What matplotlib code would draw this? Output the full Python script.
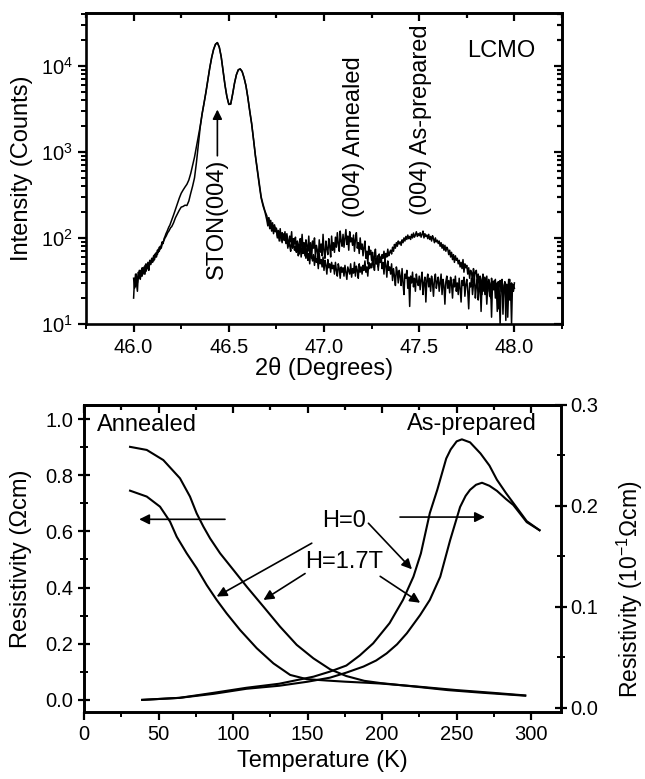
import numpy as np
import matplotlib
matplotlib.use('Agg')
import matplotlib.pyplot as plt
from matplotlib.ticker import MultipleLocator, LogLocator, NullFormatter, FormatStrFormatter

plt.rcParams['font.family'] = ['Liberation Sans', 'DejaVu Sans']
plt.rcParams['mathtext.fontset'] = 'custom'
plt.rcParams['mathtext.rm'] = 'Liberation Sans'
plt.rcParams['mathtext.it'] = 'Liberation Sans:italic'
plt.rcParams['mathtext.bf'] = 'Liberation Sans:bold'

# ---------------- XRD data ----------------
# scan grid: 46.000-46.195 (0.005 step), 46.20-46.69 (0.01 step), 46.700-48.000 (0.005 step)
two_theta = np.concatenate([np.linspace(46.0, 46.195, 40),
                            np.linspace(46.20, 46.69, 50),
                            np.linspace(46.70, 48.0, 261)])

xrd_annealed = [
    # 46.000 - 46.195
    20, 34, 27, 38, 30, 36, 42, 33, 40, 36,
    45, 38, 48, 41, 44, 52, 46, 55, 49, 58,
    52, 62, 56, 66, 60, 72, 68, 78, 74, 82,
    90, 86, 98, 104, 112, 118, 126, 134, 140, 150,
    # 46.20 - 46.69
    160, 185, 215, 250, 290, 330, 360, 390, 420, 470,
    560, 700, 870, 1150, 1500, 2000, 2800, 3700, 5000, 6900,
    9500, 12500, 15500, 17800, 18600, 16500, 12800, 8800, 6000, 4400,
    3600, 3600, 4700, 6300, 7900, 9000, 9200, 8600, 7300, 5900,
    4300, 3000, 2150, 1400, 900, 620, 420, 300, 245, 205,
    # 46.700 - 48.000
    180, 150, 172, 140, 160, 128, 150, 118, 142, 125,
    130, 105, 122, 98, 128, 92, 115, 108, 96, 118,
    88, 112, 95, 80, 105, 90, 118, 76, 98, 85,
    102, 70, 92, 84, 65, 98, 78, 110, 72, 88,
    62, 95, 80, 70, 105, 66, 88, 58, 92, 76,
    100, 60, 82, 72, 55, 95, 68, 85, 62, 110,
    70, 58, 92, 75, 64, 98, 80, 60, 105, 72,
    88, 68, 102, 78, 115, 85, 70, 120, 92, 80,
    110, 78, 98, 125, 84, 105, 72, 118, 90, 100,
    82, 108, 70, 96, 115, 76, 88, 66, 100, 74,
    85, 62, 78, 92, 58, 70, 50, 80, 64, 72,
    55, 68, 46, 62, 74, 50, 58, 42, 65, 52,
    60, 44, 52, 38, 56, 48, 35, 54, 42, 46,
    38, 50, 32, 44, 36, 28, 46, 40, 30, 42,
    36, 28, 44, 30, 22, 38, 34, 42, 26, 35,
    16, 36, 30, 40, 27, 34, 24, 38, 31, 28,
    36, 25, 33, 40, 22, 30, 35, 18, 32, 38,
    27, 34, 24, 36, 30, 21, 33, 38, 26, 31,
    35, 24, 30, 38, 22, 33, 28, 17, 31, 36,
    26, 32, 23, 35, 29, 20, 33, 27, 36, 24,
    30, 22, 34, 26, 18, 32, 28, 35, 21, 29,
    33, 24, 15, 30, 27, 34, 22, 29, 36, 20,
    28, 33, 19, 26, 31, 14, 29, 24, 34, 22,
    30, 17, 27, 33, 21, 28, 12, 30, 25, 32,
    20, 28, 14, 31, 24, 10, 27, 33, 18, 26,
    30, 11, 28, 22, 33, 19, 27, 10, 29, 24,
    30]

xrd_asprepared = [
    # 46.000 - 46.195
    34, 26, 38, 30, 24, 40, 34, 42, 36, 45,
    40, 46, 38, 50, 44, 48, 42, 54, 50, 56,
    58, 54, 64, 60, 68, 64, 74, 70, 80, 76,
    84, 90, 94, 100, 104, 110, 116, 120, 126, 132,
    # 46.20 - 46.69
    135, 150, 172, 190, 210, 228, 232, 240, 238, 268,
    330, 400, 500, 750, 1200, 1950, 2750, 3650, 4900, 6800,
    9400, 12400, 15400, 17700, 18500, 16400, 12700, 8700, 5900, 4350,
    3550, 3580, 4650, 6250, 7850, 8950, 9150, 8550, 7250, 5850,
    4250, 2950, 2100, 1380, 880, 600, 410, 290, 235, 200,
    # 46.700 - 48.000
    160, 138, 170, 128, 148, 120, 140, 112, 135, 118,
    125, 100, 118, 92, 110, 105, 88, 112, 94, 100,
    86, 98, 76, 92, 82, 70, 95, 78, 88, 72,
    80, 68, 90, 62, 75, 84, 60, 78, 66, 72,
    70, 58, 76, 55, 66, 50, 72, 60, 54, 64,
    48, 62, 52, 58, 44, 66, 50, 56, 46, 60,
    42, 55, 48, 38, 56, 45, 50, 40, 52, 44,
    48, 38, 52, 42, 36, 50, 44, 34, 46, 40,
    45, 36, 48, 40, 33, 46, 42, 38, 50, 35,
    44, 39, 52, 36, 47, 42, 34, 50, 40, 46,
    38, 48, 42, 54, 40, 46, 36, 52, 44, 50,
    45, 56, 48, 42, 58, 50, 62, 46, 55, 60,
    52, 64, 58, 70, 55, 66, 60, 74, 62, 68,
    72, 65, 78, 70, 84, 76, 88, 80, 92, 85,
    90, 82, 95, 88, 100, 92, 104, 96, 108, 98,
    104, 96, 110, 100, 114, 102, 108, 118, 104, 112,
    106, 115, 102, 110, 120, 100, 112, 104, 108, 98,
    110, 96, 104, 92, 106, 98, 88, 100, 90, 94,
    86, 92, 80, 88, 76, 84, 72, 82, 70, 78,
    74, 64, 72, 60, 68, 56, 64, 52, 62, 55,
    58, 50, 55, 46, 52, 44, 56, 40, 50, 45,
    48, 38, 45, 34, 42, 40, 30, 44, 36, 40,
    42, 30, 38, 26, 36, 33, 22, 38, 30, 35,
    28, 36, 24, 32, 30, 20, 34, 27, 31, 25,
    33, 22, 30, 15, 28, 32, 24, 30, 13, 28,
    31, 22, 29, 12, 27, 33, 20, 30, 25, 28,
    26]

xrd_xticks = [46.0, 46.5, 47.0, 47.5, 48.0]

# ---------------- Resistivity data ----------------
# Annealed (left axis, Ohm cm)
ann_H0_T = [30.9, 42.1, 51.0, 57.7, 62.2, 68.9, 75.6, 82.3, 89.0, 95.7, 104.7, 115.9, 127.1, 138.3,
            149.4, 162.9, 175, 190, 200, 225, 250, 275, 296]
ann_H0_rho = [0.745, 0.724, 0.688, 0.635, 0.581, 0.522, 0.469, 0.409, 0.356, 0.308, 0.249, 0.184,
              0.130, 0.089, 0.074, 0.069, 0.065, 0.061, 0.058, 0.047, 0.035, 0.025, 0.016]
ann_H17_T = [30.9, 42.1, 53.2, 64.4, 71.1, 75.6, 80.1, 84.6, 91.3, 100.2, 109.2, 120.4, 131.5, 142.7,
             153.9, 165.1, 176, 188, 199, 221, 244, 266, 296]
ann_H17_rho = [0.901, 0.890, 0.854, 0.789, 0.724, 0.664, 0.617, 0.575, 0.522, 0.463, 0.403, 0.332,
               0.261, 0.196, 0.148, 0.109, 0.085, 0.068, 0.060, 0.048, 0.035, 0.026, 0.015]

# As-prepared (right axis, 10^-1 Ohm cm)
asp_H0_T = [39, 64, 87, 109, 131, 154, 165, 176, 185, 194, 205, 214, 221, 226, 232, 237, 243, 246,
            250, 253.5, 259, 266, 272, 277, 283, 288, 297, 305.6]
asp_H0_rho = [0.008, 0.010, 0.015, 0.020, 0.024, 0.031, 0.036, 0.042, 0.052, 0.064, 0.084, 0.107,
              0.13, 0.153, 0.193, 0.216, 0.247, 0.256, 0.264, 0.266, 0.263, 0.252, 0.240, 0.226,
              0.213, 0.203, 0.185, 0.176]
asp_H17_T = [39, 64, 87, 109, 131, 150, 165, 176, 187.5, 196, 203, 210, 216.6, 225.5, 232, 239, 245.6,
             252.3, 256, 259, 263, 267, 272, 277, 283, 288, 297, 305.6]
asp_H17_rho = [0.008, 0.010, 0.014, 0.019, 0.022, 0.026, 0.030, 0.035, 0.041, 0.047, 0.054, 0.063,
               0.074, 0.092, 0.107, 0.13, 0.166, 0.199, 0.210, 0.216, 0.221, 0.223, 0.220, 0.215,
               0.207, 0.201, 0.184, 0.176]

# ---------------- Figure ----------------
fig = plt.figure(figsize=(6.45, 7.79), dpi=100)
SPW = 1.9
TICK_FS = 14.5
LAB_FS = 17
ANN_FS = 17

# ===== Top panel =====
ax1 = fig.add_axes([86/645, 1-324/779, 476/645, 311/779])
ax1.plot(two_theta, xrd_annealed, color='k', lw=1.1)
ax1.plot(two_theta, xrd_asprepared, color='k', lw=1.1)
ax1.set_yscale('log')
ax1.set_xlim(45.75, 48.25)
ax1.set_ylim(10, 4.1e4)
ax1.set_xticks(xrd_xticks)
ax1.xaxis.set_major_formatter(FormatStrFormatter('%.1f'))
ax1.xaxis.set_minor_locator(MultipleLocator(0.25))
ax1.yaxis.set_major_locator(LogLocator(base=10, numticks=10))
ax1.yaxis.set_minor_locator(LogLocator(base=10, subs=np.arange(2, 10), numticks=20))
ax1.yaxis.set_minor_formatter(NullFormatter())
ax1.tick_params(axis='both', which='major', direction='out', length=6, width=1.6, labelsize=TICK_FS)
ax1.tick_params(axis='both', which='minor', direction='out', length=3.5, width=1.4)
ax1.tick_params(axis='x', pad=4)
for s in ax1.spines.values():
    s.set_linewidth(SPW)
# mirrored ticks (inward)
sx1 = ax1.secondary_xaxis('top')
sx1.set_xticks(xrd_xticks)
sx1.xaxis.set_minor_locator(MultipleLocator(0.25))
sx1.tick_params(axis='x', which='both', direction='in', labeltop=False, width=1.6)
sx1.tick_params(axis='x', which='major', length=6)
sx1.tick_params(axis='x', which='minor', length=3.5)
sy1 = ax1.secondary_yaxis('right')
sy1.yaxis.set_major_locator(LogLocator(base=10, numticks=10))
sy1.yaxis.set_minor_locator(LogLocator(base=10, subs=np.arange(2, 10), numticks=20))
sy1.tick_params(axis='y', which='both', direction='in', labelright=False, width=1.6)
sy1.tick_params(axis='y', which='major', length=6)
sy1.tick_params(axis='y', which='minor', length=3.5)
sy1.yaxis.set_minor_formatter(NullFormatter())
for s in list(sx1.spines.values()) + list(sy1.spines.values()):
    s.set_linewidth(SPW)

ax1.set_xlabel('2θ (Degrees)', fontsize=LAB_FS, labelpad=0)
ax1.set_ylabel('Intensity (Counts)', fontsize=LAB_FS)
ax1.yaxis.set_label_coords(-0.111, 0.5)

ax1.text(46.44, 165, 'STON(004)', rotation=90, ha='center', va='center', fontsize=ANN_FS)
ax1.annotate('', xy=(46.44, 3100), xytext=(46.44, 900),
             arrowprops=dict(arrowstyle='-|>', color='k', lw=1.2, mutation_scale=14, shrinkA=0, shrinkB=0))
ax1.text(47.16, 1500, '(004) Annealed', rotation=90, ha='center', va='center', fontsize=ANN_FS)
ax1.text(47.51, 2350, '(004) As-prepared', rotation=90, ha='center', va='center', fontsize=ANN_FS)
ax1.text(47.93, 1.5e4, 'LCMO', ha='center', va='center', fontsize=ANN_FS)

# ===== Bottom panel =====
ax2 = fig.add_axes([84/645, 1-712/779, 477/645, 307/779])
ax3 = ax2.twinx()
ax2.plot(ann_H0_T, ann_H0_rho, color='k', lw=1.5)
ax2.plot(ann_H17_T, ann_H17_rho, color='k', lw=1.5)
ax3.plot(asp_H0_T, asp_H0_rho, color='k', lw=1.5)
ax3.plot(asp_H17_T, asp_H17_rho, color='k', lw=1.5)
ax2.set_xlim(0, 320)
ax2.set_ylim(-0.043, 1.05)
ax3.set_ylim(-0.004, 0.3)
ax2.xaxis.set_major_locator(MultipleLocator(50))
ax2.xaxis.set_minor_locator(MultipleLocator(25))
ax2.yaxis.set_major_locator(MultipleLocator(0.2))
ax2.yaxis.set_minor_locator(MultipleLocator(0.1))
ax2.yaxis.set_major_formatter(FormatStrFormatter('%.1f'))
ax3.yaxis.set_major_locator(MultipleLocator(0.1))
ax3.yaxis.set_minor_locator(MultipleLocator(0.05))
ax3.yaxis.set_major_formatter(FormatStrFormatter('%.1f'))
ax2.tick_params(axis='x', which='major', direction='out', length=6, width=1.6, labelsize=TICK_FS)
ax2.tick_params(axis='x', which='minor', direction='out', length=3.5, width=1.4)
ax2.tick_params(axis='y', which='major', direction='inout', length=9, width=1.6, labelsize=TICK_FS)
ax2.tick_params(axis='y', which='minor', direction='inout', length=6, width=1.4)
ax3.tick_params(axis='y', which='major', direction='inout', length=9, width=1.6, labelsize=TICK_FS, pad=2)
ax3.tick_params(axis='y', which='minor', direction='inout', length=6, width=1.4)
for s in list(ax2.spines.values()) + list(ax3.spines.values()):
    s.set_linewidth(SPW)
sx2 = ax2.secondary_xaxis('top')
sx2.xaxis.set_major_locator(MultipleLocator(50))
sx2.xaxis.set_minor_locator(MultipleLocator(25))
sx2.tick_params(axis='x', which='both', direction='in', labeltop=False, width=1.6)
sx2.tick_params(axis='x', which='major', length=6)
sx2.tick_params(axis='x', which='minor', length=3.5)
for s in sx2.spines.values():
    s.set_linewidth(SPW)

ax2.set_xlabel('Temperature (K)', fontsize=LAB_FS, labelpad=4)
ax2.set_ylabel('Resistivity (Ωcm)', fontsize=LAB_FS)
ax2.yaxis.set_label_coords(-0.109, 0.5)
ax3.set_ylabel('Resistivity (10$^{-1}$Ωcm)', fontsize=16.5)
ax3.yaxis.set_label_coords(1.113, 0.40)

ax2.text(9, 0.98, 'Annealed', ha='left', va='center', fontsize=ANN_FS)
ax2.text(304, 0.982, 'As-prepared', ha='right', va='center', fontsize=ANN_FS)
ax2.text(174.5, 0.637, 'H=0', ha='center', va='center', fontsize=ANN_FS)
ax2.text(174.5, 0.49, 'H=1.7T', ha='center', va='center', fontsize=ANN_FS)

arr = dict(arrowstyle='-|>', color='k', lw=1.2, mutation_scale=15, shrinkA=0, shrinkB=0)
ax2.annotate('', xy=(37, 0.643), xytext=(94.6, 0.643), arrowprops=arr)
ax2.annotate('', xy=(269, 0.651), xytext=(212, 0.651), arrowprops=arr)
ax2.annotate('', xy=(89, 0.368), xytext=(152.8, 0.558), arrowprops=arr)
ax2.annotate('', xy=(220, 0.465), xytext=(190.8, 0.629), arrowprops=arr)
ax2.annotate('', xy=(120.4, 0.356), xytext=(148.3, 0.45), arrowprops=arr)
ax2.annotate('', xy=(225.5, 0.346), xytext=(198.7, 0.44), arrowprops=arr)

fig.savefig('out.png', dpi=100)
